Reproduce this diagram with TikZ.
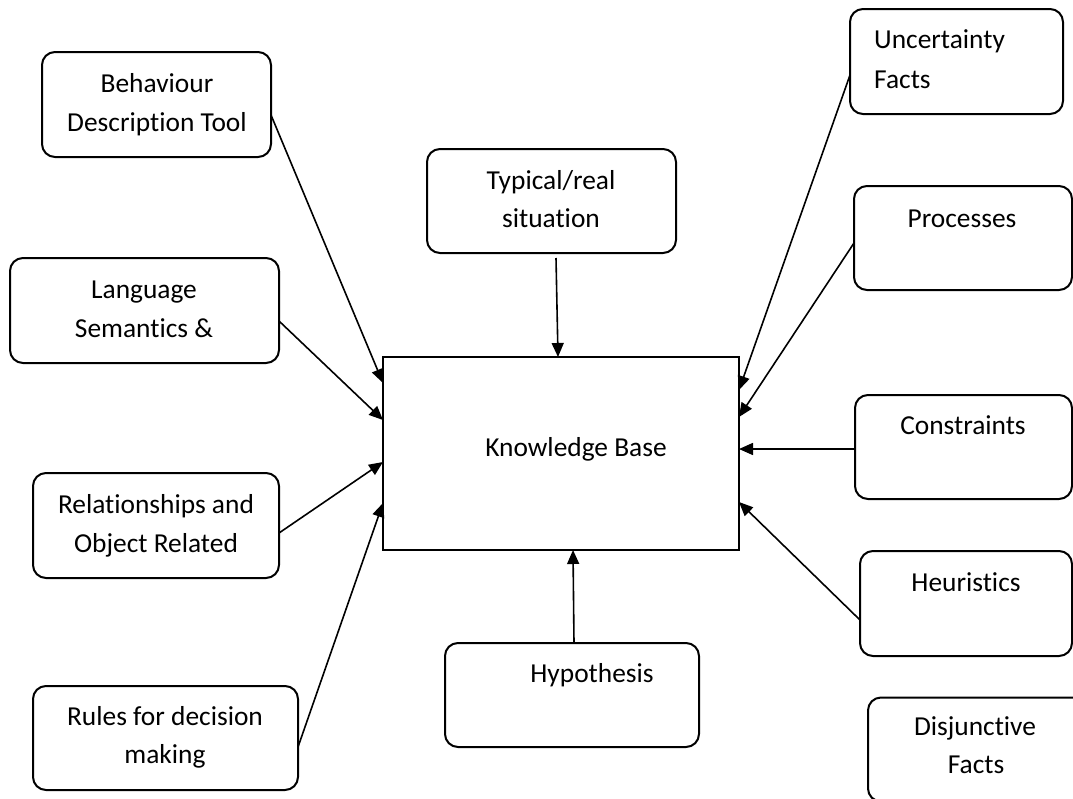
\documentclass[tikz,border=0pt]{standalone}
\usepackage{fontspec}
\setmainfont{Carlito}[Ligatures=NoCommon]
\usetikzlibrary{arrows.meta,calc}
\begin{document}
\begin{tikzpicture}[x=1pt,y=-1pt,
  rbox/.style={draw, line width=2pt, rounded corners=13pt, inner sep=0pt, outer sep=0pt},
  kbbox/.style={draw, line width=1.8pt, inner sep=0pt, outer sep=0pt},
  lbl/.style={anchor=base, inner sep=0pt, font=\fontsize{27.4}{39}\selectfont},
  lbll/.style={lbl, anchor=base west},
  conn/.style={line width=1.6pt, -{Triangle[length=14pt,width=12pt]}}]
\useasboundingbox (0,0) rectangle (1073,798);
\clip (0,0) rectangle (1073,798);
\fill[white] (0,0) rectangle (1073,798);

% boxes
\node[rbox, minimum width=229pt, minimum height=105pt] (beh)  at (156.5,104.5) {};
\node[rbox, minimum width=269pt, minimum height=105pt] (lang) at (144.5,310.5) {};
\node[rbox, minimum width=246pt, minimum height=105pt] (rel)  at (156,525.5) {};
\node[rbox, minimum width=265pt, minimum height=104pt] (rul)  at (165.5,738) {};
\node[rbox, minimum width=249pt, minimum height=104pt] (typ)  at (551.5,201) {};
\node[kbbox, minimum width=356pt, minimum height=193pt] (kb)  at (561,453.5) {};
\node[rbox, minimum width=254pt, minimum height=104pt] (hyp)  at (572,695) {};
\node[rbox, minimum width=213pt, minimum height=105pt] (unc)  at (956.5,61.5) {};
\node[rbox, minimum width=218pt, minimum height=104pt] (proc) at (963,238) {};
\node[rbox, minimum width=217pt, minimum height=104pt] (con)  at (963.5,447) {};
\node[rbox, minimum width=212pt, minimum height=105pt] (heu)  at (966,603.5) {};
\node[rbox, minimum width=224pt, minimum height=104pt] (dis)  at (980,749.5) {};

% texts
\node[lbl] (tbeh1) at (157,92) {Behaviour};
\node[lbl] (tbeh2) at (157,131) {Description Tool};
\node[lbl] (tlang1) at (144,298) {Language};
\node[lbl] (tlang2) at (144,337) {Semantics \&};
\node[lbl] (trel1) at (156,513) {Relationships and};
\node[lbl] (trel2) at (156,552) {Object Related};
\node[lbl] (trul1) at (165,725) {Rules for decision};
\node[lbl] (trul2) at (165,763) {making};
\node[lbl] (ttyp1) at (551,189) {Typical/real};
\node[lbl] (ttyp2) at (551,227) {situation};
\node[lbl] (tkb) at (576,456) {Knowledge Base};
\node[lbl] (thyp) at (592,682) {Hypothesis};
\node[lbll] (tunc1) at (874,48) {Uncertainty};
\node[lbll] (tunc2) at (874,88) {Facts};
\node[lbl] (tproc) at (962,227) {Processes};
\node[lbl] (tcon) at (963,434) {Constraints};
\node[lbl] (theu) at (966,591) {Heuristics};
\node[lbl] (tdis1) at (975,735) {Disjunctive};
\node[lbl] (tdis2) at (976,773) {Facts};

% connectors
\draw[conn] ($(beh.north east)+(0,63)$) -- ($(kb.north west)+(0,26)$);
\draw[conn] ($(lang.north east)+(0,63)$) -- ($(kb.north west)+(0,63)$);
\draw[conn] ($(rel.north east)+(0,60)$) -- ($(kb.north west)+(0,105)$);
\draw[conn] ($(rul.north east)+(0,61)$) -- ($(kb.north west)+(0,146)$);
\draw[conn] ($(typ.south west)+(129,5)$) -- ($(kb.north west)+(175,0)$);
\draw[conn] ($(hyp.north west)+(129,0)$) -- ($(kb.south west)+(190,0)$);
\draw[conn] ($(unc.north west)+(0,66)$) -- ($(kb.north east)+(0,33)$);
\draw[conn] ($(proc.north west)+(0,57)$) -- ($(kb.north east)+(0,60)$);
\draw[conn] ($(con.north west)+(0,54)$) -- ($(kb.north east)+(0,92)$);
\draw[conn] ($(heu.north west)+(0,69)$) -- ($(kb.north east)+(0,145)$);
\end{tikzpicture}
\end{document}
